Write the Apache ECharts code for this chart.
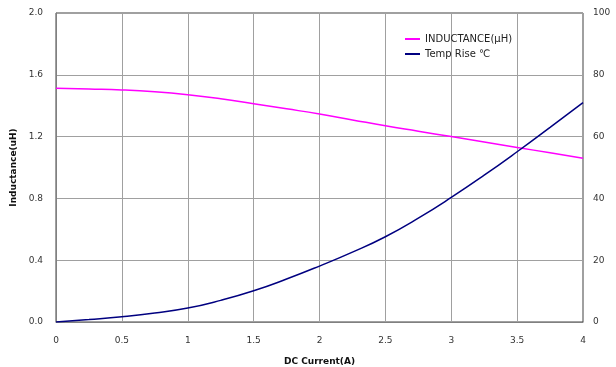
<!DOCTYPE html>
<html><head><meta charset="utf-8">
<script src="https://cdn.jsdelivr.net/npm/echarts@6/dist/echarts.min.js"></script>
<style>html,body{margin:0;padding:0;background:#fff}#c{width:616px;height:367px}</style>
</head><body><div id="c"></div>
<script>
var currentA = [0, 0.25, 0.5, 0.75, 1, 1.25, 1.5, 1.75, 2, 2.25, 2.5, 2.75, 3, 3.25, 3.5, 3.75, 4];
var inductance = [1.513, 1.508, 1.502, 1.49, 1.471, 1.445, 1.413, 1.38, 1.346, 1.308, 1.27, 1.235, 1.20, 1.165, 1.13, 1.095, 1.06];
var tempRise = [0, 0.8, 1.7, 2.9, 4.5, 7.0, 10.1, 13.9, 18.1, 22.6, 27.6, 33.6, 40.3, 47.5, 55.1, 63, 71];
var seriesNames = ['INDUCTANCE(\u03bcH)', 'Temp Rise \u2103'];

function pairs(xs, ys){ return xs.map(function(x,i){return [x, ys[i]];}); }
var font = 'Verdana, "DejaVu Sans", sans-serif';
var chart = echarts.init(document.getElementById('c'));
chart.setOption({
  backgroundColor: '#ffffff',
  animation: false,
  grid: {left: 56, right: 33, top: 13, bottom: 45, show: true, borderColor: '#404040', borderWidth: 1,
    containLabel: false, outerBoundsMode: 'none'},
  legend: {
    left: 400, top: 29, orient: 'vertical', itemGap: 5, itemWidth: 15, itemHeight: 2,
    icon: 'rect',
    textStyle: {fontFamily: font, fontSize: 10, color: '#222'},
    data: seriesNames
  },
  xAxis: {
    type: 'value', min: 0, max: 4, interval: 0.5,
    name: 'DC Current(A)', nameLocation: 'middle', nameGap: 35,
    nameTextStyle: {fontFamily: font, fontSize: 9, fontWeight: 'bold', color: '#111'},
    axisLine: {lineStyle: {color: '#808080', width: 1}},
    axisTick: {show: false},
    axisLabel: {fontFamily: font, fontSize: 9, color: '#333', margin: 14},
    splitLine: {show: true, lineStyle: {color: '#a0a0a0', width: 1}}
  },
  yAxis: [{
    type: 'value', min: 0, max: 2.0, interval: 0.4,
    name: 'Inductance(uH)', nameLocation: 'middle', nameGap: 31,
    nameTextStyle: {fontFamily: font, fontSize: 9, fontWeight: 'bold', color: '#111'},
    axisLine: {show: true, lineStyle: {color: '#808080'}},
    axisTick: {show: false},
    axisLabel: {fontFamily: font, fontSize: 9, color: '#333', margin: 13,
      formatter: function(v){return v.toFixed(1);}},
    splitLine: {show: true, lineStyle: {color: '#a0a0a0', width: 1}}
  }, {
    type: 'value', min: 0, max: 100, interval: 20, position: 'right',
    axisLine: {show: false},
    axisTick: {show: false},
    axisLabel: {fontFamily: font, fontSize: 9, color: '#333', margin: 10},
    splitLine: {show: false}
  }],
  series: [{
    name: seriesNames[0], type: 'line', yAxisIndex: 0, smooth: true, showSymbol: false,
    color: '#ff00ff', lineStyle: {color: '#ff00ff', width: 1.5},
    data: pairs(currentA, inductance)
  }, {
    name: seriesNames[1], type: 'line', yAxisIndex: 1, smooth: true, showSymbol: false,
    color: '#000080', lineStyle: {color: '#000080', width: 1.5},
    data: pairs(currentA, tempRise)
  }]
});
</script></body></html>
